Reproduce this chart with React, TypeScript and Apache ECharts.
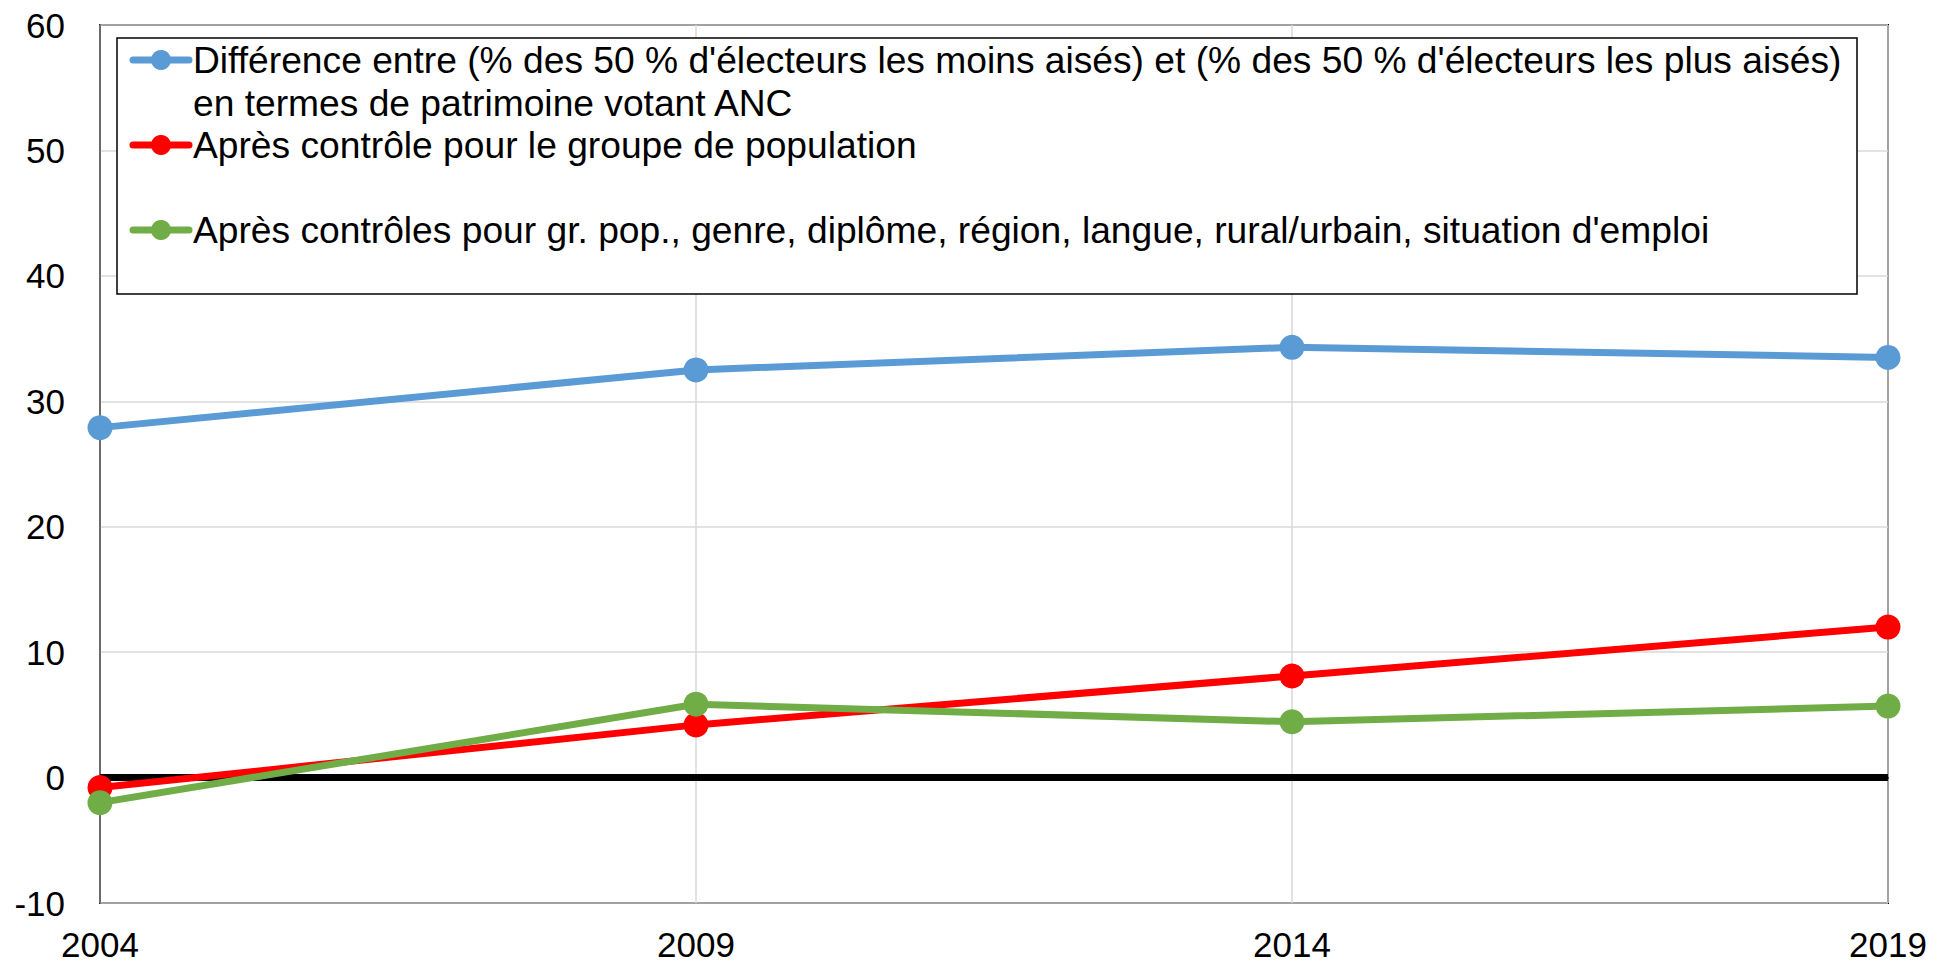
import React, { useEffect, useRef } from "react";
import * as echarts from "echarts";

const years = ["2004", "2009", "2014", "2019"];
const seriesNames = [
  "Différence entre (% des 50 % d'électeurs les moins aisés) et (% des 50 % d'électeurs les plus aisés)\nen termes de patrimoine votant ANC",
  "Après contrôle pour le groupe de population",
  "Après contrôles pour gr. pop., genre, diplôme, région, langue, rural/urbain, situation d'emploi",
];
const gapRaw = [27.9, 32.5, 34.3, 33.5];
const gapPopGroup = [-0.8, 4.2, 8.1, 12.0];
const gapAllControls = [-2.0, 5.85, 4.45, 5.7];
const colors = ["#5B9BD5", "#FF0000", "#70AD47"];
const yTicks = { min: -10, max: 60, interval: 10 };

const FONT = "'Liberation Sans', Arial, sans-serif";

export default function App() {
  const ref = useRef<HTMLDivElement>(null);
  useEffect(() => {
    if (!ref.current) return;
    const chart = echarts.init(ref.current, undefined, { renderer: "svg" });
    const dataSets = [gapRaw, gapPopGroup, gapAllControls];
    const legendLeft = 117;
    const legendTop = 38;
    const lineH = 42.5;
    const rowsBefore = [0, 2, 4];
    const legendEls: any[] = [
      {
        type: "rect",
        shape: { x: legendLeft, y: legendTop, width: 1740, height: 256 },
        style: { fill: "#fff", stroke: "#000", lineWidth: 1.5 },
        z: 100,
      },
    ];
    seriesNames.forEach((name, i) => {
      const cy = legendTop + 22 + rowsBefore[i] * lineH;
      legendEls.push({
        type: "line",
        shape: { x1: 133, y1: cy, x2: 189, y2: cy },
        style: { stroke: colors[i], lineWidth: 7, lineCap: "round" },
        z: 101,
      });
      legendEls.push({
        type: "circle",
        shape: { cx: 161, cy, r: 10 },
        style: { fill: colors[i] },
        z: 102,
      });
      legendEls.push({
        type: "text",
        x: 193,
        y: cy - lineH / 2,
        style: {
          text: name,
          fontSize: 37.2,
          fontFamily: FONT,
          lineHeight: lineH,
          fill: "#000",
          verticalAlign: "top",
          align: "left",
        },
        z: 102,
      });
    });

    chart.setOption({
      animation: false,
      backgroundColor: "#fff",
      grid: {
        left: 100,
        right: 63,
        top: 25,
        bottom: 62,
        show: true,
        borderColor: "#000",
        borderWidth: 2,
        containLabel: false,
      },
      xAxis: {
        type: "category",
        data: years,
        boundaryGap: false,
        axisLine: { show: true, lineStyle: { color: "#222", width: 2 } },
        axisTick: { show: false },
        splitLine: { show: true, lineStyle: { color: "#d9d9d9", width: 1.5 } },
        axisLabel: {
          fontSize: 35,
          fontFamily: FONT,
          color: "#000",
          margin: 24,
        },
      },
      yAxis: {
        type: "value",
        min: yTicks.min,
        max: yTicks.max,
        interval: yTicks.interval,
        axisLine: { show: true, lineStyle: { color: "#595959", width: 1.5 } },
        axisTick: { show: false },
        splitLine: { show: true, lineStyle: { color: "#d9d9d9", width: 1.5 } },
        axisLabel: {
          fontSize: 35,
          fontFamily: FONT,
          color: "#000",
          margin: 35,
        },
      },
      series: dataSets.map((d, i) => ({
        type: "line",
        name: seriesNames[i],
        data: d,
        symbol: "circle",
        symbolSize: 25,
        showSymbol: true,
        lineStyle: { color: colors[i], width: 7 },
        itemStyle: { color: colors[i] },
        z: 3 + i,
        markLine:
          i === 1
            ? {
                silent: true,
                symbol: "none",
                label: { show: false },
                lineStyle: { color: "#000", width: 7, type: "solid" },
                data: [{ yAxis: 0 }],
                z: 2,
              }
            : undefined,
      })),
      graphic: legendEls,
    });
    return () => chart.dispose();
  }, []);
  return (
    <div
      ref={ref}
      style={{ position: "fixed", left: 0, top: 0, width: 1951, height: 965 }}
    />
  );
}
